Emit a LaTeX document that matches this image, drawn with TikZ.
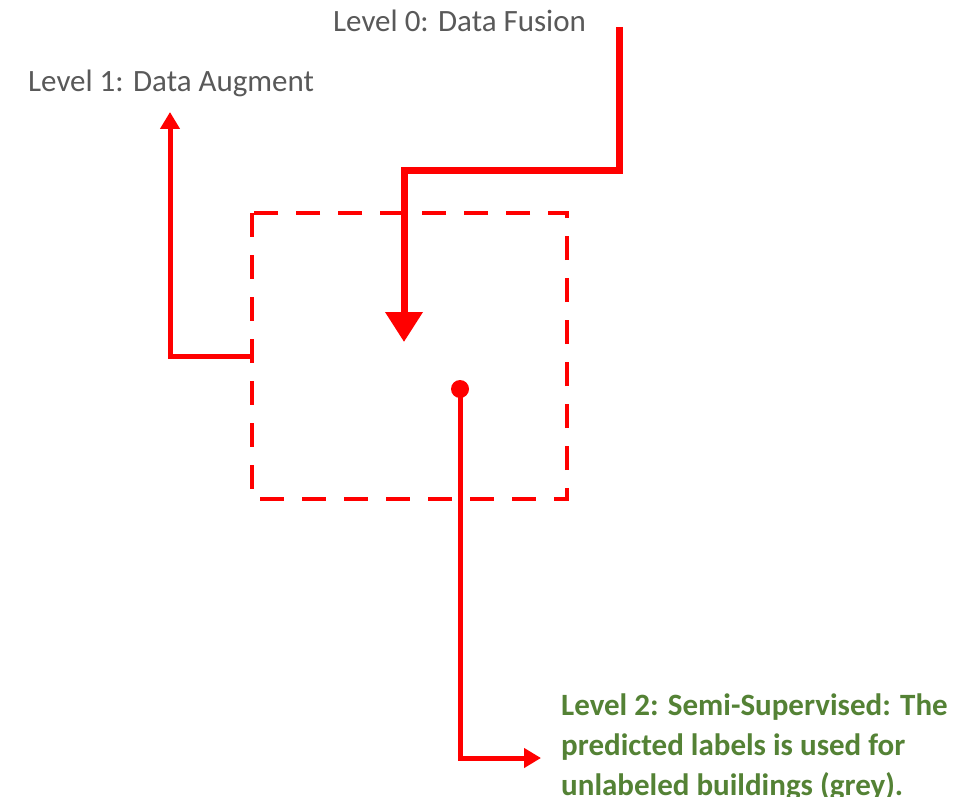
\documentclass[tikz,border=0pt]{standalone}
\usepackage{fontspec}
\setmainfont{Carlito}
\usetikzlibrary{arrows.meta}
\definecolor{redline}{HTML}{FF0000}
\definecolor{graytext}{HTML}{595959}
\definecolor{greentext}{HTML}{548235}
\begin{document}
\begin{tikzpicture}[x=1pt,y=-1pt,
  lvltext/.style={font=\fontsize{31}{37}\selectfont, text=graytext, inner sep=0pt, anchor=base west},
  lvlgreen/.style={font=\fontsize{31}{37}\selectfont\bfseries, text=greentext, inner sep=0pt, anchor=base west},
  thickconn/.style={draw=redline, line width=7pt},
  conn/.style={draw=redline, line width=5pt},
  dashedbox/.style={draw=redline, line width=4.5pt, dash pattern=on 24pt off 18pt},
  bigtip/.style={-{Triangle[length=30pt,width=36pt]}},
  smalltip/.style={-{Triangle[length=17pt,width=19pt]}}]
\useasboundingbox (0,0) rectangle (977,797);
\fill[white] (0,0) rectangle (977,797);

% dashed box
\coordinate (boxNW) at (252,213);
\coordinate (boxSE) at (567,499);
\draw[dashedbox] (boxNW) rectangle (boxSE);

% texts
\node[lvltext] (l0) at (333,32) {Level 0: Data Fusion};
\node[lvltext] (l1) at (28,92) {Level 1: Data Augment};
\node[lvlgreen] (l2a) at (561,715) {Level 2: Semi-Supervised: The};
\node[lvlgreen] (l2b) at (561,755) {predicted labels is used for};
\node[lvlgreen] (l2c) at (561,795) {unlabeled buildings (grey).};

% Level 0 connector
\coordinate (f0start) at (619,27);
\coordinate (f0bend) at (619,170);
\coordinate (f0end) at (404,342);
\draw[thickconn, bigtip] (f0start) -- (f0bend) -| (f0end);

% Level 1 connector
\coordinate (a1start) at (252,356);
\coordinate (a1end) at (170,112);
\draw[conn, smalltip] (a1start) -| (a1end);

% Level 2 connector
\node[circle, fill=redline, minimum size=18pt, inner sep=0pt] (dot) at (460,389) {};
\coordinate (a2end) at (541,758);
\draw[conn, smalltip] (dot.center) |- (a2end);
\end{tikzpicture}
\end{document}
